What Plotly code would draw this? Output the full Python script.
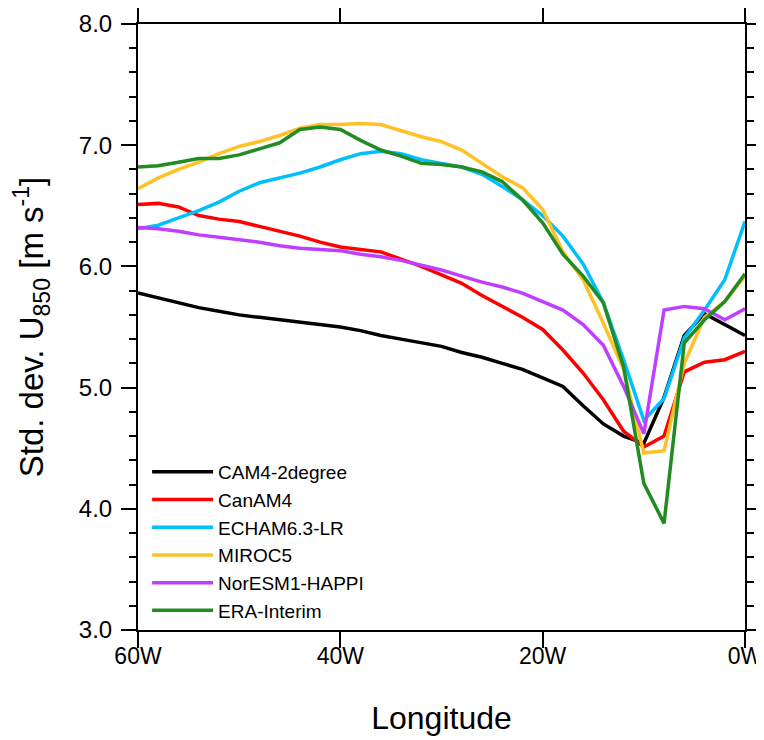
import plotly.graph_objects as go

LON = list(range(-60, 1, 2))

CAM4 = [5.78, 5.74, 5.70, 5.66, 5.63, 5.60, 5.58, 5.56, 5.54, 5.52, 5.50,
        5.47, 5.43, 5.40, 5.37, 5.34, 5.29, 5.25, 5.20, 5.15, 5.08, 5.01,
        4.85, 4.70, 4.60, 4.54, 4.92, 5.43, 5.61, 5.52, 5.43]
CANAM4 = [6.51, 6.52, 6.49, 6.42, 6.39, 6.37, 6.33, 6.29, 6.25, 6.20, 6.16,
          6.14, 6.12, 6.06, 6.00, 5.93, 5.86, 5.76, 5.67, 5.58, 5.48, 5.31,
          5.12, 4.90, 4.64, 4.51, 4.60, 5.13, 5.21, 5.23, 5.30]
ECHAM = [6.31, 6.34, 6.40, 6.46, 6.53, 6.62, 6.69, 6.73, 6.77, 6.82, 6.88,
         6.93, 6.95, 6.93, 6.88, 6.85, 6.82, 6.76, 6.66, 6.55, 6.42, 6.25,
         6.02, 5.70, 5.23, 4.73, 4.91, 5.41, 5.64, 5.89, 6.37]
MIROC5 = [6.64, 6.73, 6.80, 6.86, 6.93, 6.99, 7.03, 7.08, 7.14, 7.17, 7.17,
          7.18, 7.17, 7.12, 7.07, 7.03, 6.96, 6.85, 6.74, 6.65, 6.47, 6.12,
          5.89, 5.53, 5.15, 4.46, 4.48, 5.20, 5.58, 5.71, 5.92]
NORESM = [6.32, 6.31, 6.29, 6.26, 6.24, 6.22, 6.20, 6.17, 6.15, 6.14, 6.13,
          6.10, 6.08, 6.05, 6.01, 5.97, 5.92, 5.87, 5.83, 5.78, 5.71, 5.64,
          5.52, 5.35, 5.01, 4.62, 5.64, 5.67, 5.65, 5.56, 5.65]
ERA = [6.82, 6.83, 6.86, 6.89, 6.89, 6.92, 6.97, 7.02, 7.13, 7.15, 7.13,
       7.04, 6.96, 6.91, 6.85, 6.84, 6.82, 6.78, 6.70, 6.55, 6.36, 6.10,
       5.92, 5.70, 5.17, 4.21, 3.88, 5.37, 5.56, 5.71, 5.94]

SERIES = [
    ("CAM4-2degree", CAM4, "#000000"),
    ("CanAM4", CANAM4, "#ff0000"),
    ("ECHAM6.3-LR", ECHAM, "#00bfff"),
    ("MIROC5", MIROC5, "#ffc125"),
    ("NorESM1-HAPPI", NORESM, "#bf3eff"),
    ("ERA-Interim", ERA, "#228b22"),
]

X_TICKS = [-60, -40, -20, 0]
X_LABELS = ["60W", "40W", "20W", "0W"]
Y_TICKS = [3.0, 4.0, 5.0, 6.0, 7.0, 8.0]

FONT = "Liberation Sans, Arial, sans-serif"

fig = go.Figure()
for name, vals, color in SERIES:
    fig.add_trace(go.Scatter(x=LON, y=vals, mode="lines", name=name,
                             line=dict(color=color, width=3.5)))

# page body has an 8px margin, so the figure is offset inside the window
fig.update_layout(
    width=770,
    height=732,
    margin=dict(l=130, r=33, t=16, b=110),
    plot_bgcolor="white",
    paper_bgcolor="white",
    font=dict(family=FONT, color="black"),
    showlegend=True,
    legend=dict(
        x=0.015, y=0.0, xanchor="left", yanchor="bottom",
        bgcolor="rgba(0,0,0,0)", font=dict(size=19, family=FONT),
        itemwidth=61,
    ),
)

fig.update_xaxes(
    range=[-60, 0],
    tickvals=X_TICKS,
    ticktext=X_LABELS,
    ticks="outside",
    ticklen=16,
    tickwidth=2,
    tickcolor="black",
    showline=True,
    linewidth=2,
    linecolor="black",
    mirror="ticks",
    showgrid=False,
    zeroline=False,
    automargin=False,
    ticklabeloverflow="allow",
    tickfont=dict(size=23),
    ticklabelstandoff=-12,
    title=dict(text="Longitude", font=dict(size=32), standoff=39),
)
fig.update_yaxes(
    range=[3, 8],
    tickvals=Y_TICKS,
    tickformat=".1f",
    ticks="outside",
    ticklen=15,
    tickwidth=2,
    tickcolor="black",
    minor=dict(dtick=0.2, ticks="outside", ticklen=7, tickwidth=1.5, tickcolor="black"),
    showline=True,
    linewidth=2,
    linecolor="black",
    mirror="ticks",
    showgrid=False,
    zeroline=False,
    automargin=False,
    ticklabeloverflow="allow",
    tickfont=dict(size=24),
    ticklabelstandoff=4,
    title=dict(text="Std. dev. U<sub>850</sub> [m s<sup>-1</sup>]",
               font=dict(size=33), standoff=26),
)

fig.write_html("out.html")
